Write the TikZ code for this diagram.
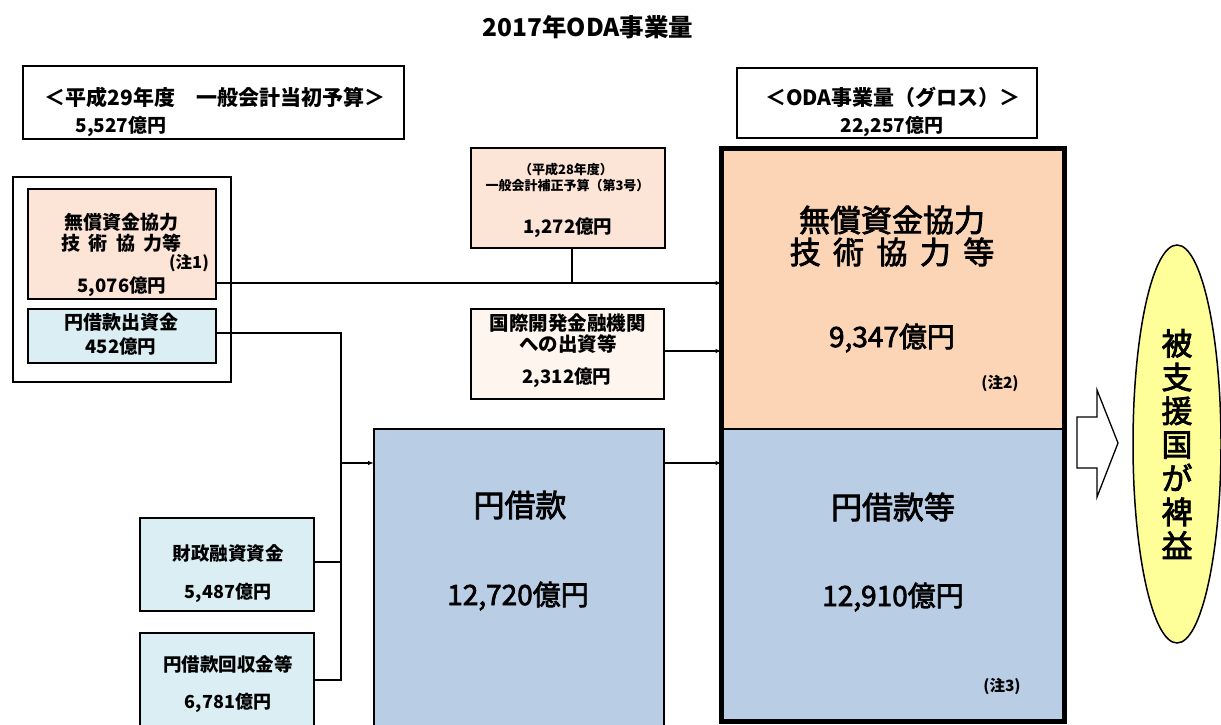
\documentclass[tikz,border=0pt]{standalone}
\usepackage{fontspec}
\setmainfont{Noto Sans CJK JP}
\newfontfamily\jpmed{Noto Sans CJK JP}[FakeBold=2.5]
\usetikzlibrary{arrows.meta,shapes.geometric}
\definecolor{peachL}{HTML}{FCE4D6}
\definecolor{peachXL}{HTML}{FEF5EE}
\definecolor{peachM}{HTML}{FBD5B5}
\definecolor{blueS}{HTML}{DAEEF3}
\definecolor{blueM}{HTML}{B9CDE5}
\definecolor{yellowL}{HTML}{FFFF99}
\newcommand{\fsz}[1]{\fontsize{#1}{#1}\selectfont\bfseries}
\newcommand{\fsr}[1]{\fontsize{#1}{#1}\selectfont\jpmed}
\begin{document}
\begin{tikzpicture}[x=1pt,y=-1pt,
  box/.style={draw, line width=2pt, inner sep=0pt, outer sep=0pt, anchor=north west},
  lbl/.style={inner sep=0pt, outer sep=0pt, anchor=center},
  conn/.style={line width=1.4pt},
  tip/.style={-{Latex[length=6pt,width=4.5pt]}}
]
\useasboundingbox (0,0) rectangle (1221,725);

% title
\node[lbl] (title) at (588,27) {\fsz{24.5}2017年ODA事業量};

% left header box
\node[box, minimum width=381pt, minimum height=72pt] (hdrL) at (22.5,66.5) {};
\node[lbl] (hdrLt) at (215,97) {\fsz{21}＜平成29年度　一般会計当初予算＞};
\node[lbl] (hdrLa) at (121,127) {\fsz{19}5,527億円};

% right header box
\node[box, minimum width=300.5pt, minimum height=70pt] (hdrR) at (736.5,68) {};
\node[lbl] (hdrRt) at (893,97) {\fsz{21}＜ODA事業量（グロス）＞};
\node[lbl] (hdrRa) at (892,127) {\fsz{19}22,257億円};

% left outer box
\node[box, minimum width=218pt, minimum height=205pt] (outerL) at (13,177) {};
\node[box, fill=peachL, minimum width=188.5pt, minimum height=110pt] (grantL) at (27.5,188.5) {};
\node[lbl] (grantL1) at (121.5,222) {\fsz{19}無償資金協力};
\node[lbl] (grantL2) at (121.5,243) {\fsz{19}技\hspace{0.45em}術\hspace{0.45em}協\hspace{0.45em}力等};
\node[lbl] (grantL3) at (189,263) {\fsz{16.5}(注1)};
\node[lbl] (grantL4) at (122,287) {\fsz{18.5}5,076億円};
\node[box, fill=blueS, minimum width=188.5pt, minimum height=54pt] (yenS) at (27.5,308.5) {};
\node[lbl] (yenS1) at (121.5,322) {\fsz{19}円借款出資金};
\node[lbl] (yenS2) at (121,346) {\fsz{18.5}452億円};

% supplementary budget box
\node[box, fill=peachL, minimum width=194pt, minimum height=100pt] (supp) at (470.5,148) {};
\node[lbl] (supp1) at (566,170) {\fsz{13}（平成28年度）};
\node[lbl] (supp2) at (567.5,186) {\fsz{13}一般会計補正予算（第3号）};
\node[lbl] (supp3) at (568,228) {\fsz{18.5}1,272億円};

% international institutions box
\node[box, fill=peachXL, minimum width=193pt, minimum height=90pt] (intl) at (471,308.5) {};
\node[lbl] (intl1) at (567.5,323) {\fsz{19.5}国際開発金融機関};
\node[lbl] (intl2) at (568,344) {\fsz{19.5}への出資等};
\node[lbl] (intl3) at (567,378) {\fsz{18.5}2,312億円};

% yen loan box
\node[box, fill=blueM, minimum width=290pt, minimum height=310pt] (loan) at (374,429) {};
\node[lbl] (loan1) at (520,505) {\fsr{31}円借款};
\node[lbl] (loan2) at (518,596) {\fsr{28}12,720億円};

% FILP box
\node[box, fill=blueS, minimum width=174pt, minimum height=93pt] (filp) at (140,517.5) {};
\node[lbl] (filp1) at (228,553) {\fsz{18.5}財政融資資金};
\node[lbl] (filp2) at (228,593) {\fsz{18}5,487億円};

% recovered funds box
\node[box, fill=blueS, minimum width=174pt, minimum height=110pt] (recov) at (140,633) {};
\node[lbl] (recov1) at (228,664) {\fsz{18.5}円借款回収金等};
\node[lbl] (recov2) at (228,703) {\fsz{18}6,781億円};

% big ODA box
\node[inner sep=0pt, outer sep=0pt, anchor=north west, fill=peachM, minimum width=343pt, minimum height=280pt] (bigTop) at (721.5,148.5) {};
\node[inner sep=0pt, outer sep=0pt, anchor=north west, fill=blueM, minimum width=343pt, minimum height=292.5pt] (bigBot) at (721.5,428.5) {};
\draw[line width=2pt] (bigTop.south west) -- (bigTop.south east);
\draw[line width=5pt] (bigTop.north west) rectangle (bigBot.south east);
\node[lbl] (big1) at (892,220) {\fsr{31}無償資金協力};
\node[lbl] (big2) at (892,252) {\fsr{31}技\hspace{0.4em}術\hspace{0.4em}協\hspace{0.4em}力\hspace{0.4em}等};
\node[lbl] (big3) at (892,338) {\fsr{28}9,347億円};
\node[lbl] (big4) at (1000,383) {\fsz{15.5}(注2)};
\node[lbl] (big5) at (893,507) {\fsr{31}円借款等};
\node[lbl] (big6) at (893,597) {\fsr{28}12,910億円};
\node[lbl] (big7) at (1002,686) {\fsz{15.5}(注3)};

% block arrow
\draw[line width=1.3pt, fill=white, line join=miter]
  (1077,417) -- (1097,417) -- (1097,390) -- (1118,443) -- (1097,497) -- (1097,468) -- (1077,468) -- cycle;

% ellipse
\node[ellipse, draw, line width=1.5pt, fill=yellowL, minimum width=88pt, minimum height=398pt, inner sep=0pt, align=center,
  font=\fontsize{31}{33.7}\selectfont\jpmed] (benefit) at (1177,444)
  {被\\支\\援\\国\\が\\裨\\益};

% connectors
\coordinate (j1) at (572,283);
\coordinate (vTop) at (341,333);
\coordinate (vFin) at (341,562);
\coordinate (vRec) at (341,680);
\coordinate (vLoan) at (341,463);
\coordinate (jIntl) at (690,351);

\draw[conn, tip] (grantL.east |- j1) -- (bigTop.west |- j1);
\draw[conn] (supp.south -| j1) -- (j1);
\draw[conn, tip] (intl.east |- jIntl) -- (bigTop.west |- jIntl);
\draw[conn] (yenS.east |- vTop) -- (vTop) -- (vRec) -- (recov.east |- vRec);
\draw[conn] (filp.east |- vFin) -- (vFin);
\draw[conn, tip] (vLoan) -- (loan.west |- vLoan);
\draw[conn, tip] (loan.east |- vLoan) -- (bigBot.west |- vLoan);
\end{tikzpicture}
\end{document}
